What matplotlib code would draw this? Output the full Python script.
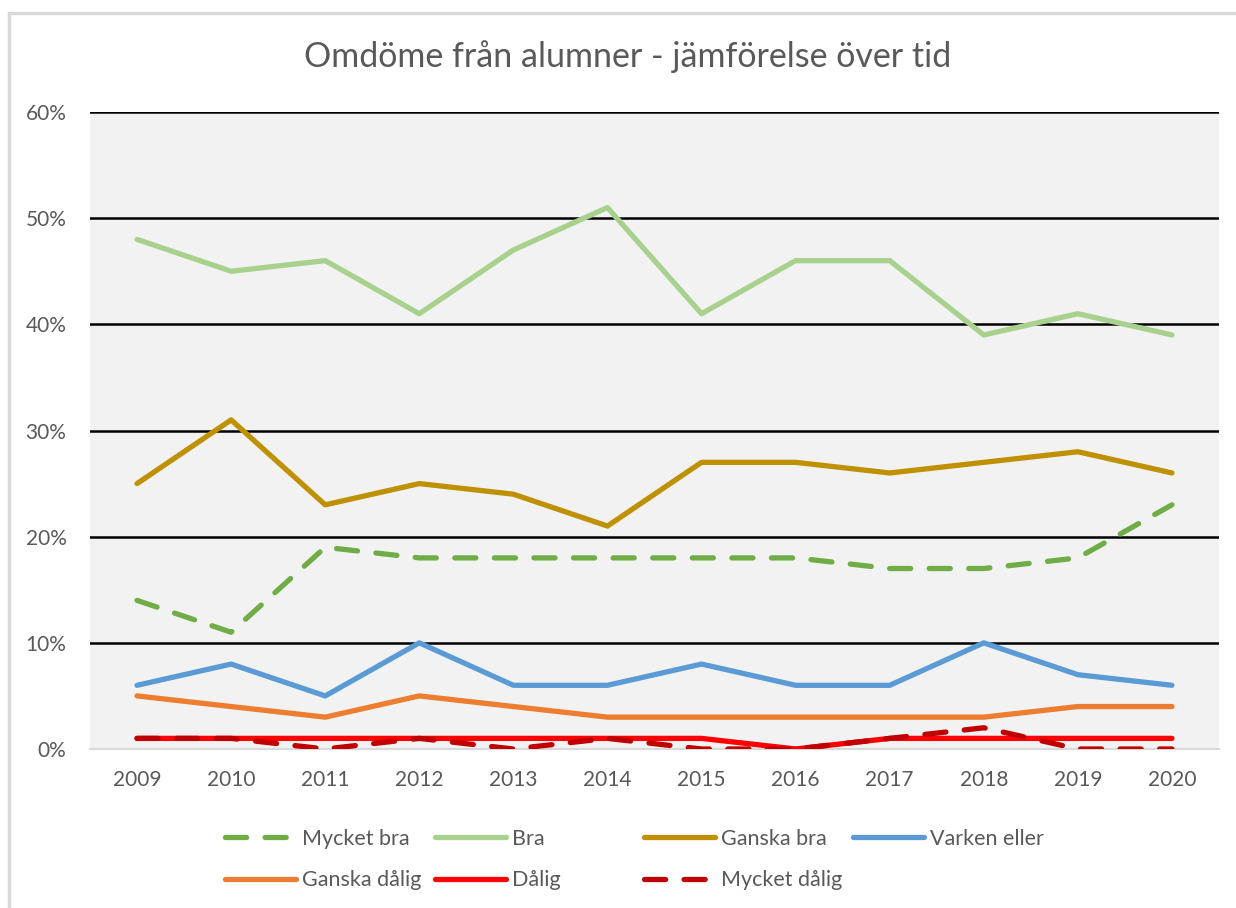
import matplotlib.pyplot as plt
from matplotlib.lines import Line2D
from matplotlib.patches import Rectangle
from matplotlib.ticker import PercentFormatter

plt.rcParams['font.family'] = ['Lato', 'DejaVu Sans']

years = ['2009', '2010', '2011', '2012', '2013', '2014',
         '2015', '2016', '2017', '2018', '2019', '2020']

mycket_bra = [14, 11, 19, 18, 18, 18, 18, 18, 17, 17, 18, 23]
bra = [48, 45, 46, 41, 47, 51, 41, 46, 46, 39, 41, 39]
ganska_bra = [25, 31, 23, 25, 24, 21, 27, 27, 26, 27, 28, 26]
varken_eller = [6, 8, 5, 10, 6, 6, 8, 6, 6, 10, 7, 6]
ganska_dalig = [5, 4, 3, 5, 4, 3, 3, 3, 3, 3, 4, 4]
dalig = [1, 1, 1, 1, 1, 1, 1, 0, 1, 1, 1, 1]
mycket_dalig = [1, 1, 0, 1, 0, 1, 0, 0, 1, 2, 0, 0]

series_names = ['Mycket bra', 'Bra', 'Ganska bra', 'Varken eller',
                'Ganska dålig', 'Dålig', 'Mycket dålig']
series_values = [mycket_bra, bra, ganska_bra, varken_eller,
                 ganska_dalig, dalig, mycket_dalig]
colors = ['#70AD47', '#A9D18E', '#BF9000', '#5B9BD5',
          '#ED7D31', '#FF0000', '#C00000']
dashed = [True, False, False, False, False, False, True]

text_color = '#595959'
W, H = 1236, 908

fig = plt.figure(figsize=(W / 100, H / 100), dpi=100)
ax = fig.add_axes([90 / W, 1 - 749 / H, (1219 - 90) / W, (749 - 112) / H])
ax.set_facecolor('#F2F2F2')

# outer chart border
fig.patches.append(Rectangle((9 / W, -0.1), 1.2, 1.1 - 13 / H,
                             transform=fig.transFigure, fill=False,
                             edgecolor='#D9D9D9', linewidth=2.5))

x = list(range(len(years)))
handles = []
for name, vals, col, ds in zip(series_names, series_values, colors, dashed):
    kw = dict(color=col, linewidth=3.8, solid_capstyle='round',
              dash_capstyle='round', solid_joinstyle='round')
    if ds:
        kw['dashes'] = (4, 3.5)
    ax.plot(x, [v / 100 for v in vals], label=name, **kw)
    handles.append(Line2D([], [], **kw))

ax.set_xlim(-0.5, len(years) - 0.5)
ax.set_ylim(0, 0.6)
ax.set_yticks([0, 0.1, 0.2, 0.3, 0.4, 0.5, 0.6])
ax.yaxis.set_major_formatter(PercentFormatter(1.0, decimals=0))
ax.set_xticks(x)
ax.set_xticklabels(years)
ax.tick_params(axis='both', length=0, labelsize=15, labelcolor=text_color)
ax.tick_params(axis='y', pad=17)
ax.tick_params(axis='x', pad=15)

ax.grid(axis='y', color='black', linewidth=1.8)
ax.set_axisbelow(True)
for s in ['left', 'right', 'top']:
    ax.spines[s].set_visible(False)
ax.spines['bottom'].set_color('#D9D9D9')
ax.spines['bottom'].set_linewidth(1.5)
ax.spines['bottom'].set_zorder(1)

fig.text(628 / W, 1 - 57 / H, 'Omdöme från alumner - jämförelse över tid',
         ha='center', va='center', fontsize=24.5, color=text_color)

# legend: four equal-width columns, two rows
col_x = [214, 424, 633, 842]
columns = [[0, 4], [1, 5], [2, 6], [3]]
for cx, idx in zip(col_x, columns):
    lg = fig.legend([handles[i] for i in idx], [series_names[i] for i in idx],
                    loc='upper left', bbox_to_anchor=(cx / W, 1 - 818 / H),
                    frameon=False, fontsize=15.5, handlelength=3.3,
                    handletextpad=0.3, borderpad=0, labelspacing=1.0)
    for t in lg.get_texts():
        t.set_color(text_color)

fig.savefig('out.png', dpi=100)
